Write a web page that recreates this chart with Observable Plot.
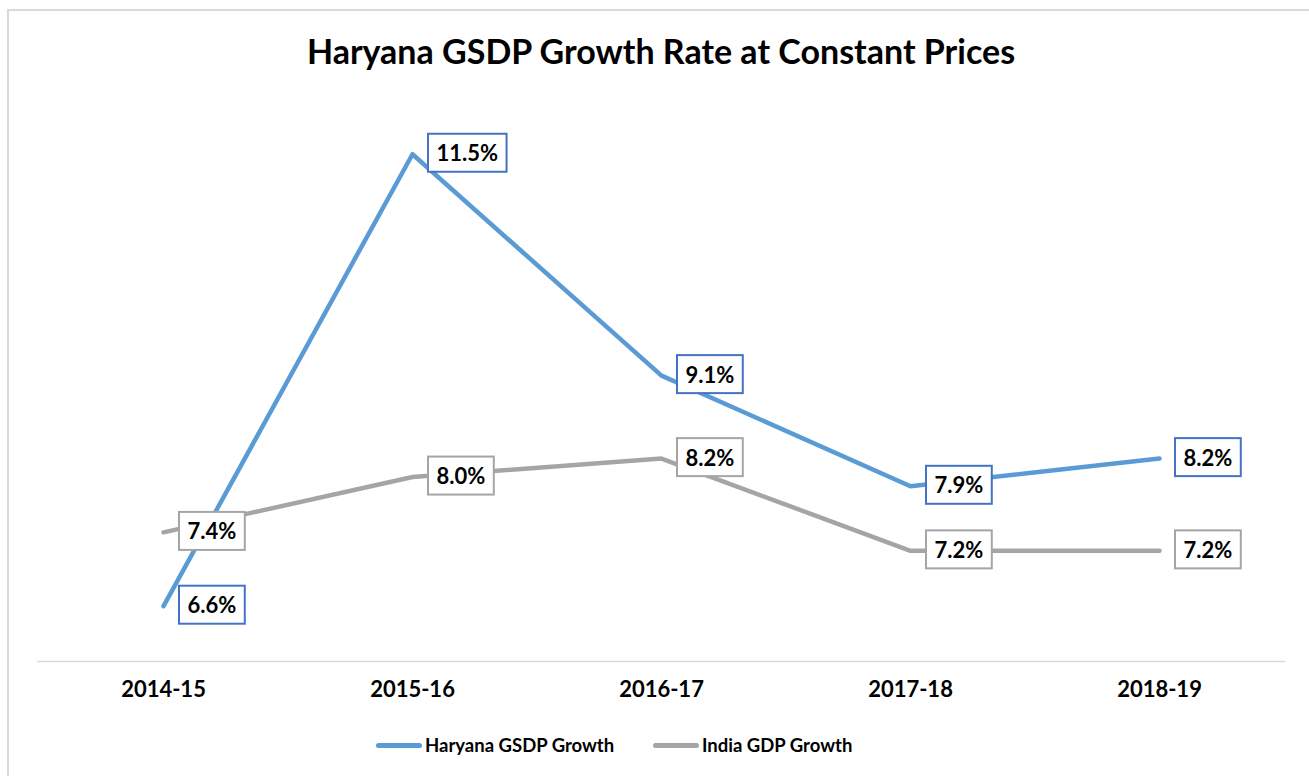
<!DOCTYPE html>
<html>
<head>
<meta charset="utf-8">
<script src="https://cdn.jsdelivr.net/npm/d3@7"></script>
<script src="https://cdn.jsdelivr.net/npm/@observablehq/plot@0.6"></script>
<style>
  html, body { margin: 0; padding: 0; background: #fff; }
  body { width: 1309px; height: 776px; position: relative; overflow: hidden;
         font-family: "Lato", sans-serif; }
  #frame { position: absolute; left: 7px; top: 9px; width: 1330px; height: 800px;
           border: 2px solid #d9d9d9; box-sizing: border-box; }
  #title { position: absolute; left: 0; top: 30px; width: 1322px; text-align: center;
           font-weight: bold; font-size: 34px; color: #000; }
  #chart { position: absolute; left: 0; top: 0; }
  #legend { position: absolute; top: 733px; left: 0; width: 1309px; height: 24px;
            font-weight: bold; font-size: 18.5px; color: #000; }
  .item { position: absolute; top: 0; display: flex; align-items: center; height: 24px; }
  .sw { display: inline-block; width: 46px; height: 5px; border-radius: 3px; margin-right: 3px; }
</style>
</head>
<body>
<div id="frame"></div>
<div id="title">Haryana GSDP Growth Rate at Constant Prices</div>
<div id="chart"></div>
<div id="legend">
  <div class="item" style="left:376px"><span class="sw" style="background:#5b9bd5"></span>Haryana GSDP Growth</div>
  <div class="item" style="left:653px"><span class="sw" style="background:#a5a5a5"></span>India GDP Growth</div>
</div>
<script>
const years = ["2014-15", "2015-16", "2016-17", "2017-18", "2018-19"];
const haryanaGrowth = [6.6, 11.5, 9.1, 7.9, 8.2];
const indiaGrowth = [7.4, 8.0, 8.2, 7.2, 7.2];
const seriesNames = ["Haryana GSDP Growth", "India GDP Growth"];

const haryana = years.map((y, i) => ({year: y, value: haryanaGrowth[i], series: seriesNames[0]}));
const india = years.map((y, i) => ({year: y, value: indiaGrowth[i], series: seriesNames[1]}));

const FONT = '"Lato", sans-serif';

const chart = Plot.plot({
  width: 1309,
  height: 776,
  marginLeft: 37,
  marginRight: 24,
  marginTop: 107.6,
  marginBottom: 115,
  style: {fontFamily: FONT, background: "transparent", overflow: "visible"},
  x: {type: "point", domain: years, padding: 0.5, label: null},
  y: {domain: [6, 12], axis: null},
  marks: [
    Plot.ruleY([6], {stroke: "#d9d9d9", strokeWidth: 1.5}),
    Plot.line(india, {x: "year", y: "value", stroke: "#a5a5a5", strokeWidth: 4.5, strokeLinecap: "round", strokeLinejoin: "round"}),
    Plot.line(haryana, {x: "year", y: "value", stroke: "#5b9bd5", strokeWidth: 4.5, strokeLinecap: "round", strokeLinejoin: "round"}),
    Plot.text(india, {x: "year", y: "value", text: d => d.value.toFixed(1) + "%", textAnchor: "start", lineAnchor: "middle", dx: 24, fontSize: 22, fontWeight: "bold", fill: "#000"}),
    Plot.text(haryana, {x: "year", y: "value", text: d => d.value.toFixed(1) + "%", textAnchor: "start", lineAnchor: "middle", dx: 24, fontSize: 22, fontWeight: "bold", fill: "#000"}),
    Plot.axisX({anchor: "bottom", tickSize: 0, tickPadding: 20, fontSize: 22, fontWeight: "bold", fill: "#000", label: null})
  ]
});
document.getElementById("chart").appendChild(chart);

// draw label boxes behind each data label text (groups in mark order: india, haryana)
const boxColors = ["#a5a5a5", "#4472c4"];
const textGroups = chart.querySelectorAll('g[aria-label="text"]');
textGroups.forEach((g, gi) => {
  const color = boxColors[gi] || "#a5a5a5";
  g.querySelectorAll("text").forEach(t => {
    const b = t.getBBox();
    const rect = document.createElementNS("http://www.w3.org/2000/svg", "rect");
    const w = b.width + 17, h = 38;
    const cy = b.y + b.height / 2;
    rect.setAttribute("x", b.x - 8.5);
    rect.setAttribute("y", cy - h / 2);
    rect.setAttribute("width", w);
    rect.setAttribute("height", h);
    rect.setAttribute("fill", "#fff");
    rect.setAttribute("stroke", color);
    rect.setAttribute("stroke-width", 2);
    if (t.getAttribute("transform")) rect.setAttribute("transform", t.getAttribute("transform"));
    g.insertBefore(rect, t);
  });
});
</script>
</body>
</html>
